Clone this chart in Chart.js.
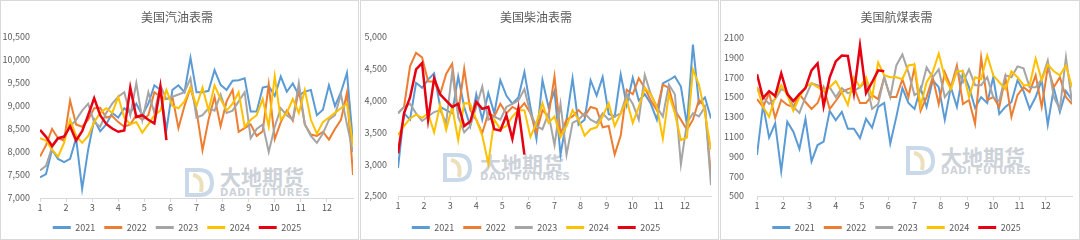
<!DOCTYPE html>
<html>
<head>
<meta charset="utf-8">
<script src="https://cdn.jsdelivr.net/npm/chart.js@4.4.0/dist/chart.umd.min.js"></script>
<style>
  body { margin: 0; width: 1080px; height: 240px; overflow: hidden; background: #fff; }
  .panel { position: absolute; top: 0; height: 238px; border: 1px solid #d9d9d9; overflow: hidden; background: #fff; }
  .panel canvas { position: absolute; left: 0; top: 0; }
  .wm { position: absolute; }
  .wm-cn { position: absolute; font: bold 21px/1 'Noto Sans CJK SC', sans-serif; color: #cdd2d9; white-space: nowrap; }
  .wm-en { position: absolute; font: bold 10px/1 'DejaVu Sans', sans-serif; color: #cdd2d9; letter-spacing: 0.6px; white-space: nowrap; }
</style>
</head>
<body>

<div class="panel" style="left:0;width:357px">
  <svg class="wm" style="left:182px;top:166px" width="32" height="31"><path d="M4 3 H16 Q29 3 29 16 Q29 28 16 28 H4 Z" fill="none" stroke="#c9d9ea" stroke-width="4"/><path d="M10 8 Q21 10 18 25" fill="none" stroke="#ebe0bb" stroke-width="4"/></svg>
  <div class="wm-cn" style="left:219px;top:165px">大地期货</div>
  <div class="wm-en" style="left:219px;top:187px">DADI FUTURES</div>
  <canvas id="c1" width="357" height="241"></canvas>
</div>
<div class="panel" style="left:360px;width:357px">
  <svg class="wm" style="left:80px;top:151px" width="32" height="31"><path d="M4 3 H16 Q29 3 29 16 Q29 28 16 28 H4 Z" fill="none" stroke="#c9d9ea" stroke-width="4"/><path d="M10 8 Q21 10 18 25" fill="none" stroke="#ebe0bb" stroke-width="4"/></svg>
  <div class="wm-cn" style="left:119px;top:152px">大地期货</div>
  <div class="wm-en" style="left:119px;top:171px">DADI FUTURES</div>
  <canvas id="c2" width="357" height="241"></canvas>
</div>
<div class="panel" style="left:720px;width:358px">
  <svg class="wm" style="left:183px;top:144px" width="32" height="31"><path d="M4 3 H16 Q29 3 29 16 Q29 28 16 28 H4 Z" fill="none" stroke="#c9d9ea" stroke-width="4"/><path d="M10 8 Q21 10 18 25" fill="none" stroke="#ebe0bb" stroke-width="4"/></svg>
  <div class="wm-cn" style="left:220px;top:145px">大地期货</div>
  <div class="wm-en" style="left:220px;top:165px">DADI FUTURES</div>
  <canvas id="c3" width="358" height="241"></canvas>
</div>

<script>
// weekly data, 53 weeks per full year; 2025 through early June
const years = ['2021', '2022', '2023', '2024', '2025'];
const colors = ['#5B9BD5', '#ED7D31', '#A5A5A5', '#FFC000', '#E60012'];
const months = [1, 2, 3, 4, 5, 6, 7, 8, 9, 10, 11, 12];

// 美国汽油表需
const gas2021 = [7450, 7520, 8050, 7850, 7780, 7850, 8300, 7200, 8050, 8700, 8450, 8600, 8850, 8750, 8950, 8850, 9050, 8800, 9050, 9450, 9350, 8480, 9350, 9450, 9300, 10050, 9300, 9300, 9330, 9780, 9460, 9350, 9550, 9560, 9600, 8880, 8880, 9400, 9430, 9220, 9640, 9310, 9490, 9230, 9310, 9350, 8800, 8920, 9450, 9000, 9300, 9720, 8200];
const gas2022 = [7900, 8150, 8500, 8300, 8250, 9120, 8600, 8550, 8700, 8950, 8960, 8750, 8780, 8650, 8550, 8600, 8800, 8700, 8800, 9300, 9200, 9150, 9200, 8520, 9000, 9400, 8900, 8040, 8700, 9200, 8560, 9100, 9350, 8440, 8520, 8600, 8350, 8450, 9470, 8280, 8650, 8900, 8680, 9350, 8600, 8380, 8350, 8440, 8270, 8500, 8700, 9290, 7500];
const gas2023 = [7600, 7700, 8100, 8300, 8350, 8550, 8700, 8900, 9050, 8650, 8550, 8850, 9050, 9200, 9300, 8800, 9500, 8700, 9300, 8850, 9450, 9150, 9200, 9250, 9300, 9600, 8750, 8800, 8950, 8900, 9250, 8850, 8900, 9100, 9300, 8300, 8500, 8600, 8000, 8550, 8950, 8800, 8700, 9500, 8600, 8350, 8200, 8400, 8700, 8800, 9250, 8600, 8000];
const gas2024 = [8300, 8250, 8050, 7900, 8200, 8700, 8350, 8200, 8350, 8650, 8850, 8950, 8850, 9200, 8750, 8600, 8650, 8420, 8600, 8800, 8900, 9350, 9000, 8950, 9100, 9400, 9000, 9400, 8900, 9450, 9150, 8900, 9050, 9300, 8550, 8700, 8800, 9150, 8550, 9650, 8700, 8850, 9150, 8850, 9350, 8700, 8400, 8650, 8750, 8850, 8950, 9050, 8150];
const gas2025 = [8480, 8330, 8130, 8300, 8330, 8560, 8250, 8450, 8800, 9170, 8800, 8610, 8510, 8440, 8470, 9400, 8760, 8800, 8700, 8620, 9420, 8260];

// 美国柴油表需
const dsl2021 = [2940, 3800, 3700, 4280, 4200, 4330, 4430, 3900, 3850, 3800, 4380, 3900, 3600, 4100, 3700, 4120, 3800, 4320, 4080, 3950, 4050, 4450, 3900, 3400, 4320, 3900, 4150, 3150, 3700, 4350, 3620, 3700, 4320, 4080, 4370, 3790, 3750, 4410, 3930, 4360, 4000, 4100, 3950, 3700, 4270, 4320, 4380, 4220, 3620, 4880, 3950, 4050, 3720];
const dsl2022 = [3800, 3900, 4540, 4750, 4680, 4300, 4300, 4100, 4420, 4580, 3800, 4500, 3850, 3700, 3490, 3800, 3750, 3950, 3800, 3900, 3850, 3960, 3800, 3500, 3850, 3750, 4380, 3480, 3700, 3750, 3850, 3750, 3900, 3870, 3580, 3600, 3150, 3450, 4170, 4100, 4350, 4200, 4000, 3850, 4250, 4200, 3850, 3700, 3540, 3700, 4010, 3900, 2800];
const dsl2023 = [3800, 3900, 3950, 3800, 3680, 3750, 3820, 3850, 3650, 4450, 3750, 3500, 3600, 3900, 4220, 3700, 3750, 3700, 3900, 3950, 4000, 4180, 3800, 3600, 3550, 3800, 3300, 3950, 3150, 3650, 3700, 3800, 3700, 3650, 3800, 3700, 3750, 3800, 4100, 3950, 3700, 4400, 4100, 3900, 3750, 4250, 4100, 3000, 3650, 3800, 3750, 3900, 2670];
const dsl2024 = [3460, 3600, 3720, 3780, 3730, 3800, 3500, 3930, 3540, 3900, 3380, 3960, 3950, 3700, 3450, 3010, 3700, 3550, 3600, 3750, 3850, 3850, 3430, 3650, 3960, 3650, 3750, 3430, 3600, 3850, 3700, 3450, 3550, 3580, 3750, 3960, 3600, 3800, 4010, 3650, 3900, 4200, 4100, 3900, 3400, 4100, 3800, 3380, 3420, 4490, 4250, 3800, 3230];
const dsl2025 = [3170, 3800, 4050, 4490, 4590, 3700, 4350, 4100, 4000, 3900, 3950, 3600, 3670, 3980, 3870, 3900, 3550, 3530, 3770, 3400, 3880, 3150];

// 美国航煤表需
const jet2021 = [915, 1420, 1090, 1235, 750, 1250, 1150, 975, 1280, 850, 1015, 1050, 1360, 1265, 1350, 1180, 1180, 1085, 1280, 1190, 1400, 1440, 1030, 1300, 1590, 1440, 1380, 1590, 1400, 1670, 1600, 1270, 1600, 1400, 1750, 1600, 1390, 1500, 1440, 1700, 1330, 1400, 1450, 1670, 1560, 1380, 1500, 1670, 1220, 1590, 1350, 1560, 1470];
const jet2022 = [1480, 1400, 1540, 1290, 1470, 1420, 1400, 1530, 1450, 1380, 1440, 1600, 1380, 1460, 1550, 1580, 1600, 1440, 1440, 1520, 1480, 1700, 1500, 1500, 1680, 1500, 1800, 1360, 1500, 1700, 1430, 1750, 1600, 1820, 1430, 1470, 1230, 1900, 1470, 1500, 1400, 1700, 1300, 1520, 1600, 1550, 1720, 1400, 1800, 1600, 1700, 1500, 1430];
const jet2023 = [1600, 1500, 1430, 1480, 1580, 1550, 1400, 1340, 1500, 1640, 1620, 1580, 1600, 1500, 1590, 1540, 1560, 1600, 1660, 1380, 1430, 1700, 1500, 1820, 1930, 1750, 1520, 1560, 1800, 1700, 1780, 1500, 1580, 1780, 1650, 1780, 1620, 1620, 1700, 1500, 1460, 1720, 1700, 1810, 1790, 1600, 1600, 1680, 1870, 1500, 1380, 1900, 1450];
const jet2024 = [1600, 1400, 1300, 1500, 1620, 1520, 1360, 1500, 1600, 1640, 1600, 1560, 1600, 1660, 1550, 1420, 1700, 1600, 1700, 1500, 1850, 1720, 1700, 1700, 1680, 1820, 1830, 1410, 1650, 1750, 1940, 1700, 1580, 1760, 1760, 1500, 1700, 1680, 1920, 1720, 1650, 1580, 1760, 1700, 1620, 1620, 1890, 1670, 1830, 1760, 1720, 1820, 1600];
const jet2025 = [1730, 1490, 1560, 1510, 1740, 1530, 1460, 1530, 1590, 1770, 1840, 1410, 1700, 1860, 1920, 1915, 1540, 2020, 1540, 1650, 1770, 1760];

const tickColor = '#595959';
const axisColor = '#d9d9d9';
const numFont = "'Noto Sans CJK SC', 'Noto Sans', sans-serif";

// week i sits at month 1 + i * 12/52
function toPoints(vals) {
  return vals.map((v, i) => ({ x: 1 + i * 12 / 52, y: v }));
}

function makeChart(id, title, series, y, box) {
  const datasets = series.map((vals, k) => ({
    label: years[k],
    data: toPoints(vals),
    borderColor: colors[k],
    backgroundColor: colors[k],
    borderWidth: k === 4 ? 2.5 : 2,
    pointRadius: 0,
    tension: 0,
    fill: false,
    order: 4 - k
  }));

  return new Chart(document.getElementById(id), {
    type: 'line',
    data: { datasets: datasets },
    options: {
      responsive: false,
      animation: false,
      layout: { padding: { left: 0, right: box.padR, top: 0, bottom: 0 } },
      plugins: {
        title: {
          display: true,
          text: title,
          color: tickColor,
          font: { family: "'Noto Sans CJK SC', sans-serif", size: 12, weight: 'normal' },
          padding: { top: 9, bottom: box.titleGap }
        },
        legend: {
          position: 'bottom',
          labels: {
            boxWidth: 18,
            boxHeight: 3,
            padding: 9,
            color: tickColor,
            font: { family: numFont, size: 9 },
            sort: (a, b) => a.datasetIndex - b.datasetIndex,
            generateLabels: (chart) => Chart.defaults.plugins.legend.labels.generateLabels(chart)
              .map(l => Object.assign(l, { lineWidth: 0, fillStyle: l.strokeStyle }))
          }
        },
        tooltip: { enabled: false }
      },
      scales: {
        x: {
          type: 'linear',
          min: 1,
          max: 13,
          afterBuildTicks: (s) => { s.ticks = months.map(m => ({ value: m })); },
          afterFit: (s) => { s.height = box.xh; },
          ticks: { autoSkip: false, maxRotation: 0, padding: 0, color: tickColor, font: { family: numFont, size: 9 } },
          grid: { drawOnChartArea: false, drawTicks: true, tickLength: 4, color: axisColor },
          border: { color: axisColor }
        },
        y: {
          min: y.min,
          max: y.max,
          afterFit: (s) => { s.width = box.yw; },
          ticks: {
            stepSize: y.step,
            padding: box.yPad,
            color: tickColor,
            font: { family: numFont, size: 9 },
            callback: y.fmt
          },
          grid: { display: false, drawTicks: false },
          border: { display: false }
        }
      }
    }
  });
}

const comma = v => v.toLocaleString('en-US');

makeChart('c1', '美国汽油表需', [gas2021, gas2022, gas2023, gas2024, gas2025],
  { min: 7000, max: 10500, step: 500, fmt: comma },
  { padR: 5, yw: 39, yPad: 10, titleGap: 12.6, xh: 16 });

makeChart('c2', '美国柴油表需', [dsl2021, dsl2022, dsl2023, dsl2024, dsl2025],
  { min: 2500, max: 5000, step: 500, fmt: comma },
  { padR: 7, yw: 37, yPad: 11, titleGap: 12.6, xh: 18 });

makeChart('c3', '美国航煤表需', [jet2021, jet2022, jet2023, jet2024, jet2025],
  { min: 500, max: 2100, step: 200, fmt: v => String(v) },
  { padR: 7, yw: 36, yPad: 13, titleGap: 13.3, xh: 18 });
</script>
</body>
</html>
